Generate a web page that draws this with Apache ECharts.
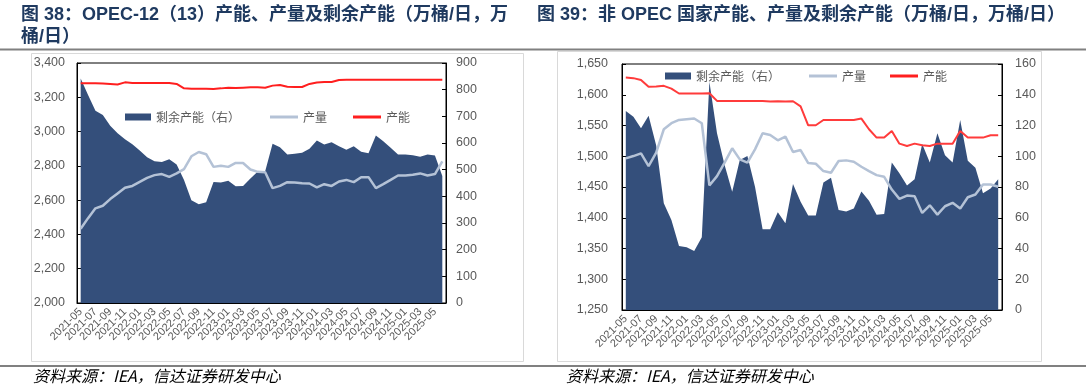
<!DOCTYPE html>
<html><head><meta charset="utf-8">
<script src="https://cdn.jsdelivr.net/npm/echarts/dist/echarts.min.js"></script>
<style>html,body{margin:0;padding:0;background:#fff;}#c{width:1088px;height:390px;}</style>
</head><body><div id="c"></div>
<script>
// Categories: monthly 2021-05 .. 2025-06
const months = [
 '2021-05','2021-06','2021-07','2021-08','2021-09','2021-10','2021-11','2021-12',
 '2022-01','2022-02','2022-03','2022-04','2022-05','2022-06','2022-07','2022-08','2022-09','2022-10','2022-11','2022-12',
 '2023-01','2023-02','2023-03','2023-04','2023-05','2023-06','2023-07','2023-08','2023-09','2023-10','2023-11','2023-12',
 '2024-01','2024-02','2024-03','2024-04','2024-05','2024-06','2024-07','2024-08','2024-09','2024-10','2024-11','2024-12',
 '2025-01','2025-02','2025-03','2025-04','2025-05','2025-06'
];

// Figure 38: OPEC-12 (13)
const opecSpare = [842,780,721,705,665,637,614,595,572,547,
 532,529,539,519,461,385,370,378,454,452,
 458,438,439,467,493,494,597,584,557,560,
 563,578,609,594,603,588,575,588,567,562,
 628,607,582,557,557,554,548,557,553,476];
const opecProduction = [2433,2495,2552,2567,2606,2639,2672,2683,2707,2730,
 2746,2752,2736,2756,2781,2856,2881,2868,2794,2800,
 2794,2817,2817,2779,2765,2763,2670,2683,2705,2703,
 2699,2697,2674,2693,2683,2709,2718,2705,2734,2734,
 2670,2693,2718,2744,2744,2748,2756,2744,2752,2826];
const opecCapacity = [3282,3282,3282,3280,3278,3275,3287,3284,3283,3283,
 3283,3283,3283,3278,3252,3250,3250,3250,3249,3252,
 3256,3254,3256,3258,3258,3256,3268,3272,3262,3260,
 3260,3278,3286,3289,3289,3301,3303,3303,3303,3303,
 3303,3303,3303,3303,3303,3303,3303,3303,3303,3303];

// Figure 39: non-OPEC
const nonSpare = [129.4,125.7,118.2,126.4,107,69.4,58.5,41.6,40.8,38.4,
 47.3,148.5,114.9,94.3,76.9,97.6,100.2,80.2,52.5,52.5,
 63.5,56.4,82,70.4,61.5,61.5,83,86,65,64,
 66,77,71,62,62.5,96,89,81,85,108,
 96,115,100.6,96,123.6,97,92.5,76,79,85];
const nonProduction = [1496.5,1500.3,1504.7,1484,1505.8,1543.9,1553.7,1559.1,1560.2,1561.3,
 1553.7,1452.5,1467.7,1489.5,1512.9,1494.9,1489.5,1511.2,1537.3,1534.6,
 1525.9,1531.9,1506.9,1510.1,1489,1487.8,1475.9,1473.1,1492.2,1493.3,
 1491.1,1482.9,1475.9,1469.3,1466.6,1445.9,1430.7,1436.1,1435,1407.8,
 1420.3,1405.1,1418.7,1424.2,1414.9,1433.4,1437.8,1454.1,1454.1,1450.3];
const nonCapacity = [1628,1627,1624,1613,1613.5,1614.5,1610,1602,1602,1602,
 1602,1602.5,1590,1590,1590,1590,1590,1590,1590,1589,
 1589.5,1589,1589.5,1581,1550.4,1550.4,1559,1559,1559,1559,
 1559,1561.3,1543.9,1530.3,1530.3,1541.2,1520.5,1516.7,1520.5,1517.8,
 1516.7,1520.5,1520.5,1520.5,1541.2,1530.3,1530.3,1530.3,1534.1,1534.1];

const titleLeft = '图 38：OPEC-12（13）产能、产量及剩余产能（万桶/日，万\n桶/日）';
const titleRight = '图 39：非 OPEC 国家产能、产量及剩余产能（万桶/日，万桶/日）';
const sourceText = '资料来源：IEA，信达证券研发中心';
const nameSpare = '剩余产能（右）', nameProd = '产量', nameCap = '产能';

const C_AREA = '#344F7B', C_PROD = '#B4C2D6', C_CAP = '#FF1F1F';
const GRAY = '#595959';
const NUMFONT = '"Liberation Sans", Arial, sans-serif';
const CJK = '"Noto Sans CJK SC", sans-serif';

function fmt(v){ return v.toLocaleString('en-US'); }
// show every other month label (2021-05, 2021-07, ...); other slots stay blank
function monthLabel(v, idx){ return idx % 2 === 0 ? v : ''; }

function xAx(g){
  return {type:'category', gridIndex:g, data:months, boundaryGap:true,
    axisLine:{show:true, lineStyle:{color:'#000', width:1}},
    axisTick:{show:true, inside:true, length:4, interval:1, lineStyle:{color:'#000'}},
    axisLabel:{interval:0, formatter:monthLabel, rotate:45, fontSize:11, color:GRAY, margin:7, fontFamily:NUMFONT,
      showMinLabel:true, showMaxLabel:false, hideOverlap:false},
    splitLine:{show:false}};
}
function yAx(g, pos, min, max, step, margin){
  return {type:'value', gridIndex:g, position:pos, min:min, max:max, interval:step,
    axisLine:{show:true, lineStyle:{color:'#000', width:1}},
    axisTick:{show:true, inside:true, length:4, lineStyle:{color:'#000'}},
    axisLabel:{fontSize:12.5, color:GRAY, margin:margin, fontFamily:NUMFONT, formatter:fmt,
      showMinLabel:true, showMaxLabel:true},
    splitLine:{show:false}};
}
function leg(name, left, top, w, h){
  return {data:[{name:name, icon:'rect'}], left:left, top:top, itemWidth:w, itemHeight:h,
    padding:0, selectedMode:false, textStyle:{fontSize:12, color:GRAY, fontFamily:CJK}};
}

const chart = echarts.init(document.getElementById('c'), null, {renderer:'canvas'});
chart.setOption({
  animation:false,
  backgroundColor:'#fff',
  title:[
    {text:titleLeft, left:16, top:-1, textStyle:{fontSize:18, fontWeight:'bold', color:'#1F3A60',
      fontFamily:'"Liberation Sans","Noto Sans CJK SC",sans-serif', lineHeight:22}},
    {text:titleRight, left:532, top:-1, textStyle:{fontSize:18, fontWeight:'bold', color:'#1F3A60',
      fontFamily:'"Liberation Sans","Noto Sans CJK SC",sans-serif', lineHeight:22}}
  ],
  legend:[
    leg(nameSpare,125,111,26,7), leg(nameProd,270,111,28,3), leg(nameCap,353,111,28,3),
    leg(nameSpare,665,70,26,7), leg(nameProd,809,70,28,3), leg(nameCap,890,70,28,3)
  ],
  grid:[
    {left:77, top:63, width:369, height:240, show:true, borderColor:'#000', borderWidth:1, backgroundColor:'rgba(0,0,0,0)', containLabel:false},
    {left:622, top:64, width:380, height:246, show:true, borderColor:'#000', borderWidth:1, backgroundColor:'rgba(0,0,0,0)', containLabel:false}
  ],
  xAxis:[xAx(0), xAx(1)],
  yAxis:[
    yAx(0,'left',2000,3400,200,12), yAx(0,'right',0,900,100,10),
    yAx(1,'left',1250,1650,50,14), yAx(1,'right',0,160,20,13)
  ],
  series:[
    {name:nameSpare, type:'line', xAxisIndex:0, yAxisIndex:1, data:opecSpare, symbol:'none',
      lineStyle:{width:0}, itemStyle:{color:C_AREA}, areaStyle:{color:C_AREA, opacity:1}, z:1},
    {name:nameProd, type:'line', xAxisIndex:0, yAxisIndex:0, data:opecProduction, symbol:'none',
      lineStyle:{width:2.5, color:C_PROD}, itemStyle:{color:C_PROD}, z:2},
    {name:nameCap, type:'line', xAxisIndex:0, yAxisIndex:0, data:opecCapacity, symbol:'none',
      lineStyle:{width:2, color:C_CAP}, itemStyle:{color:C_CAP}, z:3},
    {name:nameSpare, type:'line', xAxisIndex:1, yAxisIndex:3, data:nonSpare, symbol:'none',
      lineStyle:{width:0}, itemStyle:{color:C_AREA}, areaStyle:{color:C_AREA, opacity:1}, z:1},
    {name:nameProd, type:'line', xAxisIndex:1, yAxisIndex:2, data:nonProduction, symbol:'none',
      lineStyle:{width:2.5, color:C_PROD}, itemStyle:{color:C_PROD}, z:2},
    {name:nameCap, type:'line', xAxisIndex:1, yAxisIndex:2, data:nonCapacity, symbol:'none',
      lineStyle:{width:2, color:'#FF3B3B'}, itemStyle:{color:C_CAP}, z:3}
  ],
  graphic:[
    {type:'line', shape:{x1:0,y1:49.5,x2:1086,y2:49.5}, style:{stroke:'#808080', lineWidth:2}, silent:true},
    {type:'line', shape:{x1:0,y1:366,x2:1086,y2:366}, style:{stroke:'#808080', lineWidth:2}, silent:true},
    {type:'rect', shape:{x:31.5,y:53.5,width:492,height:308}, style:{fill:null, stroke:'#D9D9D9', lineWidth:1}, silent:true, z:-10},
    {type:'rect', shape:{x:557.5,y:51.5,width:484,height:310}, style:{fill:null, stroke:'#D9D9D9', lineWidth:1}, silent:true, z:-10},
    {type:'text', left:33, top:368, style:{text:sourceText, font:'italic 16px "Noto Sans CJK SC", sans-serif', fill:'#000'}, silent:true},
    {type:'text', left:566, top:368, style:{text:sourceText, font:'italic 16px "Noto Sans CJK SC", sans-serif', fill:'#000'}, silent:true}
  ]
});
</script>
</body></html>
